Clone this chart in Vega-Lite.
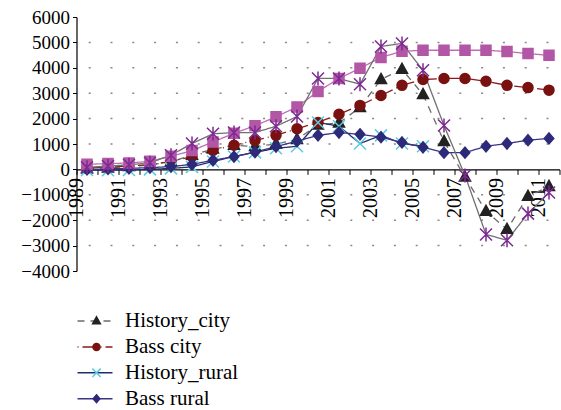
{
  "$schema": "https://vega.github.io/schema/vega-lite/v6.json",
  "width": 483,
  "height": 254,
  "autosize": {"type": "none"},
  "padding": {"left": 76.5, "top": 17, "right": 1.5, "bottom": 139},
  "background": "white",
  "config": {"view": {"stroke": null}, "font": "Liberation Serif"},
  "datasets": {
    "grid": [{"g": -3000}, {"g": -2000}, {"g": -1000}, {"g": 1000}, {"g": 2000}, {"g": 3000}, {"g": 4000}, {"g": 5000}],
    "series": [
      {"year": 1989, "History_city": 30, "Bass city": 60, "History_rural": -20, "Bass rural": 0, "Bass total": 200, "History_total": 80},
      {"year": 1990, "History_city": 60, "Bass city": 90, "History_rural": -30, "Bass rural": 20, "Bass total": 230, "History_total": 130},
      {"year": 1991, "History_city": 110, "Bass city": 130, "History_rural": -20, "Bass rural": 40, "Bass total": 250, "History_total": 180},
      {"year": 1992, "History_city": 170, "Bass city": 190, "History_rural": 0, "Bass rural": 70, "Bass total": 320, "History_total": 260},
      {"year": 1993, "History_city": 300, "Bass city": 310, "History_rural": 40, "Bass rural": 110, "Bass total": 520, "History_total": 560},
      {"year": 1994, "History_city": 560, "Bass city": 510, "History_rural": 100, "Bass rural": 200, "Bass total": 740, "History_total": 1020},
      {"year": 1995, "History_city": 800, "Bass city": 750, "History_rural": 310, "Bass rural": 360, "Bass total": 1080, "History_total": 1400},
      {"year": 1996, "History_city": 950, "Bass city": 950, "History_rural": 510, "Bass rural": 500, "Bass total": 1420, "History_total": 1450},
      {"year": 1997, "History_city": 900, "Bass city": 1140, "History_rural": 670, "Bass rural": 680, "Bass total": 1720, "History_total": 1450},
      {"year": 1998, "History_city": 1000, "Bass city": 1340, "History_rural": 830, "Bass rural": 900, "Bass total": 2070, "History_total": 1700},
      {"year": 1999, "History_city": 1180, "Bass city": 1600, "History_rural": 910, "Bass rural": 1110, "Bass total": 2460, "History_total": 2080},
      {"year": 2000, "History_city": 1750, "Bass city": 1850, "History_rural": 1850, "Bass rural": 1340, "Bass total": 3070, "History_total": 3580},
      {"year": 2001, "History_city": 1830, "Bass city": 2170, "History_rural": 1700, "Bass rural": 1450, "Bass total": 3580, "History_total": 3580},
      {"year": 2002, "History_city": 2440, "Bass city": 2520, "History_rural": 1020, "Bass rural": 1380, "Bass total": 3980, "History_total": 3350},
      {"year": 2003, "History_city": 3540, "Bass city": 2910, "History_rural": 1340, "Bass rural": 1270, "Bass total": 4410, "History_total": 4840},
      {"year": 2004, "History_city": 3940, "Bass city": 3310, "History_rural": 1020, "Bass rural": 1060, "Bass total": 4650, "History_total": 4960},
      {"year": 2005, "History_city": 2950, "Bass city": 3540, "History_rural": 910, "Bass rural": 870, "Bass total": 4690, "History_total": 3900},
      {"year": 2006, "History_city": 1100, "Bass city": 3580, "History_rural": null, "Bass rural": 660, "Bass total": 4690, "History_total": 1730},
      {"year": 2007, "History_city": -300, "Bass city": 3580, "History_rural": null, "Bass rural": 660, "Bass total": 4690, "History_total": -240},
      {"year": 2008, "History_city": -1650, "Bass city": 3470, "History_rural": null, "Bass rural": 910, "Bass total": 4690, "History_total": -2560},
      {"year": 2009, "History_city": -2360, "Bass city": 3310, "History_rural": null, "Bass rural": 1020, "Bass total": 4640, "History_total": -2790},
      {"year": 2010, "History_city": -1060, "Bass city": 3220, "History_rural": null, "Bass rural": 1150, "Bass total": 4560, "History_total": -1740},
      {"year": 2011, "History_city": -670, "Bass city": 3120, "History_rural": null, "Bass rural": 1220, "Bass total": 4490, "History_total": -910}
    ]
  },
  "layer": [
    {
      "data": {"name": "grid"},
      "mark": {"type": "rule", "color": "#888888", "strokeWidth": 1.5, "strokeDash": [2, 19.8], "strokeDashOffset": 10.8},
      "encoding": {
        "y": {
          "field": "g", "type": "quantitative",
          "scale": {"domain": [-4000, 6000], "nice": false},
          "axis": {
            "title": null,
            "values": [-4000, -3000, -2000, -1000, 0, 1000, 2000, 3000, 4000, 5000, 6000],
            "format": "d",
            "labelFont": "Liberation Serif",
            "labelFontSize": 19,
            "labelColor": "black",
            "labelOverlap": false,
            "labelPadding": 3,
            "tickSize": 4,
            "tickColor": "black",
            "domainColor": "black",
            "domainWidth": 1.2,
            "grid": false
          }
        }
      }
    },
    {
      "data": {"name": "series"},
      "transform": [
        {"fold": ["History_city", "Bass city", "History_rural", "Bass rural", "Bass total", "History_total"], "as": ["series", "value"]},
        {"filter": "isValid(datum.value)"}
      ],
      "encoding": {
        "x": {
          "field": "year", "type": "quantitative",
          "scale": {"domain": [1988.5, 2011.5], "nice": false, "zero": false},
          "axis": {
            "title": null,
            "values": [1988.5, 1989.5, 1990.5, 1991.5, 1992.5, 1993.5, 1994.5, 1995.5, 1996.5, 1997.5, 1998.5, 1999.5, 2000.5, 2001.5, 2002.5, 2003.5, 2004.5, 2005.5, 2006.5, 2007.5, 2008.5, 2009.5, 2010.5, 2011.5],
            "labelExpr": "((datum.value - 1988.5) % 2 == 0) ? format(datum.value + 0.5, 'd') : ''",
            "labelAngle": -90,
            "labelFont": "Liberation Serif",
            "labelFontSize": 20,
            "labelColor": "black",
            "labelOverlap": false,
            "labelFlush": false,
            "labelPadding": 3,
            "tickSize": 5,
            "tickColor": "black",
            "domainColor": "black",
            "domainWidth": 1.2,
            "grid": false,
            "offset": -101.6
          }
        },
        "y": {
          "field": "value", "type": "quantitative",
          "scale": {"domain": [-4000, 6000], "nice": false},
          "axis": {
            "title": null,
            "values": [-4000, -3000, -2000, -1000, 0, 1000, 2000, 3000, 4000, 5000, 6000],
            "format": "d",
            "labelFont": "Liberation Serif",
            "labelFontSize": 19,
            "labelColor": "black",
            "labelOverlap": false,
            "labelPadding": 3,
            "tickSize": 4,
            "tickColor": "black",
            "domainColor": "black",
            "domainWidth": 1.2,
            "grid": false
          }
        }
      },
      "layer": [
        {
          "mark": {"type": "line", "strokeWidth": 1.3},
          "encoding": {
            "color": {
              "field": "series", "type": "nominal",
              "scale": {
                "domain": ["History_city", "Bass city", "History_rural", "Bass rural", "Bass total", "History_total"],
                "range": ["#6b6b6b", "#8b1a1a", "#1f2f6e", "#3b3486", "#c06cb5", "#707070"]
              },
              "legend": {
                "title": null, "orient": "none", "legendX": 8, "legendY": 293.5, "padding": 0,
                "values": ["History_city", "Bass city", "History_rural", "Bass rural"],
                "symbolType": "M-3.5,0L3.5,0", "symbolSize": 100, "symbolStrokeWidth": 1.5,
                "labelFont": "Liberation Serif", "labelFontSize": 21, "labelColor": "black",
                "labelOffset": 19.5, "rowPadding": 3.9, "zindex": 0
              }
            },
            "strokeDash": {
              "field": "series", "type": "nominal",
              "scale": {
                "domain": ["History_city", "Bass city", "History_rural", "Bass rural", "Bass total", "History_total"],
                "range": [[7, 6], [1, 4, 14, 4], [1, 0], [1, 0], [1, 0], [1, 0]]
              },
              "legend": {
                "title": null, "orient": "none", "legendX": 8, "legendY": 293.5, "padding": 0,
                "values": ["History_city", "Bass city", "History_rural", "Bass rural"],
                "symbolType": "M-3.5,0L3.5,0", "symbolSize": 100, "symbolStrokeWidth": 1.5,
                "labelFont": "Liberation Serif", "labelFontSize": 21, "labelColor": "black",
                "labelOffset": 19.5, "rowPadding": 3.9, "zindex": 0
              }
            }
          }
        },
        {
          "mark": {"type": "point", "size": 100, "strokeWidth": 1.5, "opacity": 1},
          "encoding": {
            "shape": {
              "field": "series", "type": "nominal",
              "scale": {
                "domain": ["History_total", "Bass total", "Bass rural", "History_rural", "Bass city", "History_city"],
                "range": [
                  "M0,-1.4L0,1.4M-1.2,-1.2L1.2,1.2M-1.2,1.2L1.2,-1.2",
                  "M-1,-1L1,-1L1,1L-1,1Z",
                  "M0,-1.1L0.95,0L0,1.1L-0.95,0Z",
                  "M-1.2,-1.2L1.2,1.2M-1.2,1.2L1.2,-1.2",
                  "M-1,0A1,1,0,1,0,1,0A1,1,0,1,0,-1,0Z",
                  "M0,-1.2L1.1,0.8L-1.1,0.8Z"
                ]
              },
              "legend": {
                "title": null, "orient": "none", "legendX": 9.5, "legendY": 293.5, "padding": 0,
                "values": ["History_city", "Bass city", "History_rural", "Bass rural"],
                "symbolSize": 49, "symbolStrokeWidth": 1.5,
                "labelFont": "Liberation Serif", "labelFontSize": 21, "labelOpacity": 0,
                "labelOffset": 21, "rowPadding": 3.9, "zindex": 1
              }
            },
            "fill": {
              "field": "series", "type": "nominal",
              "scale": {
                "domain": ["History_total", "Bass total", "Bass rural", "History_rural", "Bass city", "History_city"],
                "range": ["#7d2a92", "#b256a6", "#2d2a7a", "#5bcbe0", "#7a1111", "#222222"]
              },
              "legend": {
                "title": null, "orient": "none", "legendX": 9.5, "legendY": 293.5, "padding": 0,
                "values": ["History_city", "Bass city", "History_rural", "Bass rural"],
                "symbolSize": 49, "symbolStrokeWidth": 1.5,
                "labelFont": "Liberation Serif", "labelFontSize": 21, "labelOpacity": 0,
                "labelOffset": 21, "rowPadding": 3.9, "zindex": 1
              }
            },
            "stroke": {
              "field": "series", "type": "nominal",
              "scale": {
                "domain": ["History_total", "Bass total", "Bass rural", "History_rural", "Bass city", "History_city"],
                "range": ["#7d2a92", "#b256a6", "#2d2a7a", "#5bcbe0", "#7a1111", "#222222"]
              },
              "legend": {
                "title": null, "orient": "none", "legendX": 9.5, "legendY": 293.5, "padding": 0,
                "values": ["History_city", "Bass city", "History_rural", "Bass rural"],
                "symbolSize": 49, "symbolStrokeWidth": 1.5,
                "labelFont": "Liberation Serif", "labelFontSize": 21, "labelOpacity": 0,
                "labelOffset": 21, "rowPadding": 3.9, "zindex": 1
              }
            }
          }
        }
      ]
    }
  ]
}
